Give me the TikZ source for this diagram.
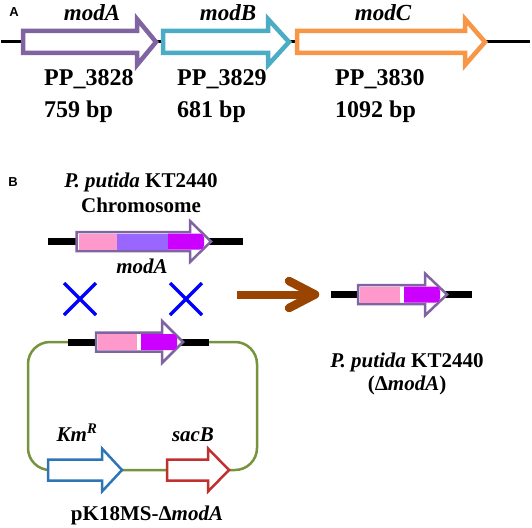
\documentclass[tikz,border=0pt]{standalone}
\usepackage{fontspec}
\setmainfont{Liberation Serif}
\newfontfamily\lsans{Liberation Sans}
\definecolor{cpurple}{RGB}{128,100,162}
\definecolor{ccyan}{RGB}{75,172,198}
\definecolor{corange}{RGB}{247,150,70}
\definecolor{cpink}{RGB}{255,153,204}
\definecolor{clav}{RGB}{153,102,255}
\definecolor{cmag}{RGB}{204,0,255}
\definecolor{cgreen}{RGB}{119,147,60}
\definecolor{ckm}{RGB}{46,117,182}
\definecolor{csac}{RGB}{192,48,48}
\definecolor{cbrown}{RGB}{153,68,0}
\definecolor{cxblue}{RGB}{0,0,255}
% #1 style, #2 x1, #3 xh, #4 xt, #5 yc, #6 body half, #7 head half
\newcommand\genearrow[7]{%
  \draw[#1] (#2,#5-#6) -- (#3,#5-#6) -- (#3,#5-#7) -- (#4,#5) -- (#3,#5+#7) -- (#3,#5+#6) -- (#2,#5+#6) -- cycle;}
\tikzset{
  geneA/.style={line width=4.5pt, fill=white, line join=miter},
  geneB/.style={line width=2.5pt, fill=white, line join=miter},
  lbl/.style={font=\bfseries\fontsize{24}{28}\selectfont, inner sep=0pt},
  lbli/.style={font=\bfseries\itshape\fontsize{23}{27}\selectfont, inner sep=0pt},
  lblb/.style={font=\bfseries\fontsize{21}{25}\selectfont, inner sep=0pt},
  lblbi/.style={font=\bfseries\itshape\fontsize{21}{25}\selectfont, inner sep=0pt},
  panel/.style={font=\lsans\bfseries\fontsize{13}{15}\selectfont, inner sep=0pt},
  dnaline/.style={line width=7pt, black},
  cross/.style={cxblue, line width=3.5pt},
}
\begin{document}
\begin{tikzpicture}[x=1pt,y=-1pt]
\useasboundingbox (0,0) rectangle (532,527);
% ---------- Panel A ----------
\node[panel] (labA) at (14,12) {A};
\draw[line width=3pt] (1,42) -- (530,42);
\genearrow{geneA, draw=cpurple}{23}{137}{156}{42}{11}{23}
\genearrow{geneA, draw=ccyan}{163}{268}{289}{42}{11}{23}
\genearrow{geneA, draw=corange}{297}{465}{485}{42}{11}{23}
\node[lbli] (modA) at (92,13) {modA};
\node[lbli] (modB) at (228,13) {modB};
\node[lbli] (modC) at (383,13) {modC};
\node[lbl, anchor=base west] (ppa) at (44,85) {PP\_3828};
\node[lbl, anchor=base west] (ppb) at (177,85) {PP\_3829};
\node[lbl, anchor=base west] (ppc) at (335,85) {PP\_3830};
\node[lbl, anchor=base west] (bpa) at (44,117) {759 bp};
\node[lbl, anchor=base west] (bpb) at (177,117) {681 bp};
\node[lbl, anchor=base west] (bpc) at (335,117) {1092 bp};
% ---------- Panel B ----------
\node[panel] (labB) at (13,182) {B};
\node[lblb, anchor=base] (kt1) at (141,187) {\textit{P. putida} KT2440};
\node[lblb, anchor=base] (chr) at (141,212) {Chromosome};
% chromosome gene
\draw[dnaline] (48,241.5) -- (243,241.5);
\genearrow{geneB, draw=cpurple}{76.5}{190}{211}{241.5}{9.5}{20.5}
\fill[cpink] (78.5,233.5) rectangle (117,249.5);
\fill[clav] (117,233.5) rectangle (168,249.5);
\fill[cmag] (168,233.5) [rounded corners=4pt] -- (204,233.5) -- (204,249.5) [sharp corners] -- (168,249.5) -- cycle;
\node[lblbi, anchor=base] (modAc) at (142,273) {modA};
% crosses
\draw[cross] (64,283) -- (96,315) (64,315) -- (96,283);
\draw[cross] (170,283) -- (202,315) (170,315) -- (202,283);
% brown arrow
\draw[cbrown, line width=8pt] (237,294.5) -- (312,294.5);
\draw[cbrown, line width=8.5pt, line cap=round, line join=round] (289,281) -- (315,294.5) -- (289,308);
% result gene
\draw[dnaline] (331,294.5) -- (472,294.5);
\genearrow{geneB, draw=cpurple}{358}{425}{447}{294.5}{9.5}{21}
\fill[cpink] (360,286.5) rectangle (400,302.5);
\fill[cmag] (404,286.5) [rounded corners=4pt] -- (440,286.5) -- (440,302.5) [sharp corners] -- (404,302.5) -- cycle;
\node[lblb, anchor=base] (kt2) at (407,367) {\textit{P. putida} KT2440};
\node[lblb, anchor=base] (dm) at (407,390) {(Δ\textit{modA})};
% plasmid
\draw[cgreen, line width=2.5pt, rounded corners=22pt] (28,342) rectangle (257,470);
\draw[dnaline] (68,342) -- (209,342);
\genearrow{geneB, draw=cpurple}{96}{162}{183}{342}{9.5}{21}
\fill[cpink] (98,334) rectangle (137,350);
\fill[cmag] (141,334) [rounded corners=4pt] -- (177,334) -- (177,350) [sharp corners] -- (141,350) -- cycle;
\genearrow{geneB, draw=ckm}{48}{102}{122}{470}{10.5}{21.5}
\genearrow{geneB, draw=csac}{167}{208}{229}{470}{10.5}{21.5}
\node[lblbi, anchor=base] (km) at (77,441) {Km\textsuperscript{R}};
\node[lblbi, anchor=base] (sac) at (193,441) {sacB};
\node[lblb, anchor=base] (pk) at (147,520) {pK18MS-Δ\textit{modA}};
\end{tikzpicture}
\end{document}
